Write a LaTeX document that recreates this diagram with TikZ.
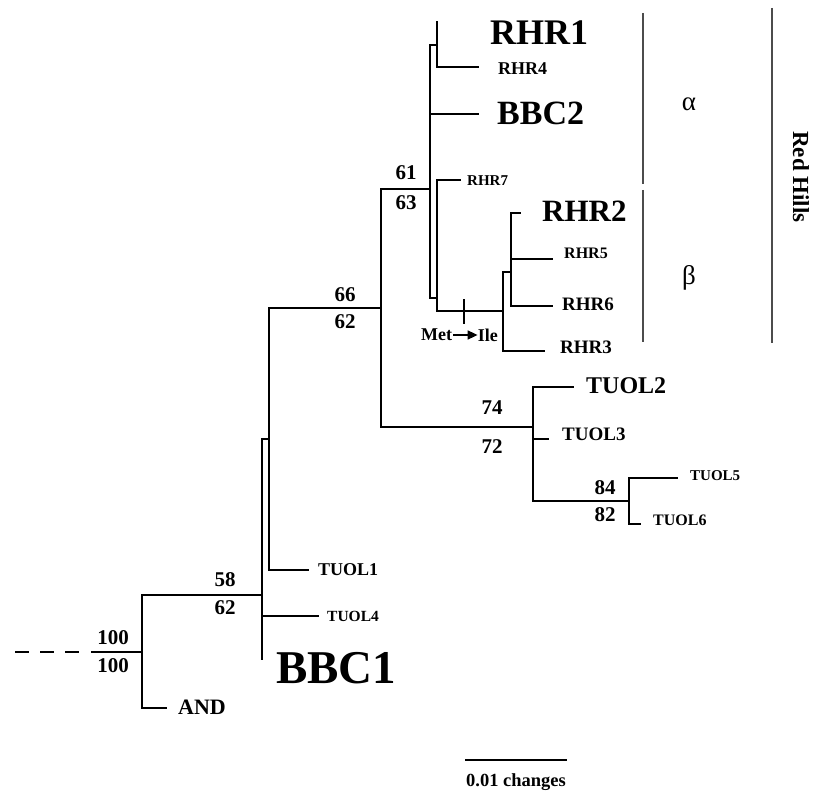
\documentclass[tikz,border=0pt]{standalone}
\usepackage{fontspec}
\setmainfont{Liberation Serif}
\usetikzlibrary{arrows.meta}
\newcommand{\fsz}[1]{\fontsize{#1}{#1}\selectfont\bfseries}
\tikzset{
  br/.style={line width=1.5pt, line cap=rect},
  thickbr/.style={line width=2.4pt},
  bar/.style={line width=1.3pt, draw=black!70},
  tip/.style={anchor=west, inner sep=0pt},
  sup/.style={inner sep=0pt, font=\fsz{21}},
}
\begin{document}
\begin{tikzpicture}[x=1pt,y=-1pt]
\useasboundingbox (0,0) rectangle (814,794);
% ---- coordinates
\coordinate (d0) at (15,652);
\coordinate (d1) at (88,652);
\coordinate (r0) at (92,652);
\coordinate (r1) at (142,652);
\coordinate (rt) at (142,595);
\coordinate (rb) at (142,708);
\coordinate (andE) at (166,708);
\coordinate (a0) at (262,595);
\coordinate (aT) at (262,439);
\coordinate (aB) at (262,659);
\coordinate (a4) at (262,616);
\coordinate (t4E) at (318,616);
\coordinate (b0) at (269,439);
\coordinate (bT) at (269,308);
\coordinate (bB) at (269,570);
\coordinate (t1E) at (308,570);
\coordinate (c0) at (381,308);
\coordinate (cT) at (381,189);
\coordinate (cB) at (381,427);
\coordinate (dN) at (430,189);
\coordinate (dT) at (430,45);
\coordinate (dB) at (430,298);
\coordinate (d2) at (430,114);
\coordinate (bbc2E) at (478,114);
\coordinate (e0) at (437,45);
\coordinate (eT) at (437,22);
\coordinate (eB) at (437,67);
\coordinate (r4E) at (478,67);
\coordinate (f0) at (437,298);
\coordinate (fT) at (437,180);
\coordinate (fB) at (437,311);
\coordinate (r7E) at (460,180);
\coordinate (g0) at (503,311);
\coordinate (gT) at (503,272);
\coordinate (gB) at (503,351);
\coordinate (r3E) at (544,351);
\coordinate (h0) at (511,272);
\coordinate (hT) at (511,213);
\coordinate (hB) at (511,306);
\coordinate (h5) at (511,259);
\coordinate (r2E) at (520,213);
\coordinate (r5E) at (552,259);
\coordinate (r6E) at (552,306);
\coordinate (tkT) at (464,300);
\coordinate (tkB) at (464,323);
\coordinate (k0) at (533,427);
\coordinate (kT) at (533,387);
\coordinate (kB) at (533,501);
\coordinate (t2E) at (573,387);
\coordinate (t3S) at (535,439);
\coordinate (t3E) at (548,439);
\coordinate (m0) at (629,501);
\coordinate (mT) at (629,478);
\coordinate (mB) at (629,524);
\coordinate (t5E) at (677,478);
\coordinate (t6E) at (640,524);
% ---- branches
\draw[br, dash pattern=on 14pt off 11pt, line cap=butt] (d0) -- (d1);
\draw[br] (r0) -- (r1);
\draw[br] (rt) -- (rb) -- (andE);
\draw[br] (rt) -- (a0);
\draw[br] (aT) -- (aB);
\draw[br] (a4) -- (t4E);
\draw[br] (aT) -- (b0);
\draw[br] (bT) -- (bB) -- (t1E);
\draw[br] (bT) -- (c0);
\draw[br] (cT) -- (cB);
\draw[br] (cT) -- (dN);
\draw[br] (dT) -- (dB);
\draw[br] (d2) -- (bbc2E);
\draw[br] (dT) -- (e0);
\draw[br] (eT) -- (eB) -- (r4E);
\draw[br] (dB) -- (f0);
\draw[br] (r7E) -- (fT) -- (fB) -- (g0);
\draw[br] (tkT) -- (tkB);
\draw[br] (gT) -- (gB) -- (r3E);
\draw[br] (gT) -- (h0);
\draw[br] (r2E) -- (hT) -- (hB) -- (r6E);
\draw[br] (h5) -- (r5E);
\draw[br] (cB) -- (k0);
\draw[br] (t2E) -- (kT) -- (kB);
\draw[br] (t3S) -- (t3E);
\draw[thickbr] (kB) -- (m0);
\draw[br] (t5E) -- (mT) -- (mB) -- (t6E);
% ---- tip labels
\node[tip, font=\fsz{36}] (RHR1) at (490,33) {RHR1};
\node[tip, font=\fsz{18}] (RHR4) at (498,69) {RHR4};
\node[tip, font=\fsz{34}] (BBC2) at (497,113) {BBC2};
\node[tip, font=\fsz{15}] (RHR7) at (467,181) {RHR7};
\node[tip, font=\fsz{31}] (RHR2) at (542,211) {RHR2};
\node[tip, font=\fsz{16}] (RHR5) at (564,253) {RHR5};
\node[tip, font=\fsz{19}] (RHR6) at (562,304) {RHR6};
\node[tip, font=\fsz{19}] (RHR3) at (560,347) {RHR3};
\node[tip, font=\fsz{24}] (TUOL2) at (586,386) {TUOL2};
\node[tip, font=\fsz{19}] (TUOL3) at (562,434) {TUOL3};
\node[tip, font=\fsz{15}] (TUOL5) at (690,476) {TUOL5};
\node[tip, font=\fsz{16}] (TUOL6) at (653,520) {TUOL6};
\node[tip, font=\fsz{18}] (TUOL1) at (318,570) {TUOL1};
\node[tip, font=\fsz{15.5}] (TUOL4) at (327,616) {TUOL4};
\node[tip, font=\fsz{47}] (BBC1) at (276,668) {BBC1};
\node[tip, font=\fsz{22}] (AND) at (178,707) {AND};
% ---- support values
\node[sup] (s61) at (406,173) {61};
\node[sup] (s63) at (406,203) {63};
\node[sup] (s66) at (345,295) {66};
\node[sup] (s62a) at (345,322) {62};
\node[sup] (s74) at (492,408) {74};
\node[sup] (s72) at (492,447) {72};
\node[sup] (s84) at (605,488) {84};
\node[sup] (s82) at (605,515) {82};
\node[sup] (s58) at (225,580) {58};
\node[sup] (s62b) at (225,608) {62};
\node[sup] (s100a) at (113,638) {100};
\node[sup] (s100b) at (113,666) {100};
% ---- mutation
\node[tip, font=\fsz{18}] (met) at (421,335) {Met};
\node[anchor=east, inner sep=0pt, font=\fsz{18}] (ile) at (498,335) {Ile};
\draw[line width=1.6pt, -{Triangle[length=10pt,width=9pt]}] (met.east) ++(1pt,0) coordinate (mA) (mA) -- (ile.west);
% ---- clade bars
\coordinate (aT0) at (643,13); \coordinate (aB0) at (643,184);
\coordinate (bT0) at (643,190); \coordinate (bB0) at (643,342);
\coordinate (hT0) at (772,8); \coordinate (hB0) at (772,343);
\draw[bar] (aT0) -- (aB0);
\draw[bar] (bT0) -- (bB0);
\draw[bar] (hT0) -- (hB0);
\node[inner sep=0pt, font=\fontsize{27}{27}\selectfont] (alpha) at (689,104) {α};
\node[inner sep=0pt, font=\fontsize{27}{27}\selectfont] (beta) at (689,278) {β};
\node[inner sep=0pt, font=\fsz{23}, rotate=-90] (red) at (801,177) {Red Hills};
% ---- scale bar
\coordinate (sc0) at (465,760); \coordinate (sc1) at (567,760);
\draw[br, line cap=butt] (sc0) -- (sc1);
\node[inner sep=0pt, font=\fsz{18.5}] (scl) at (516,782) {0.01 changes};
\end{tikzpicture}
\end{document}
